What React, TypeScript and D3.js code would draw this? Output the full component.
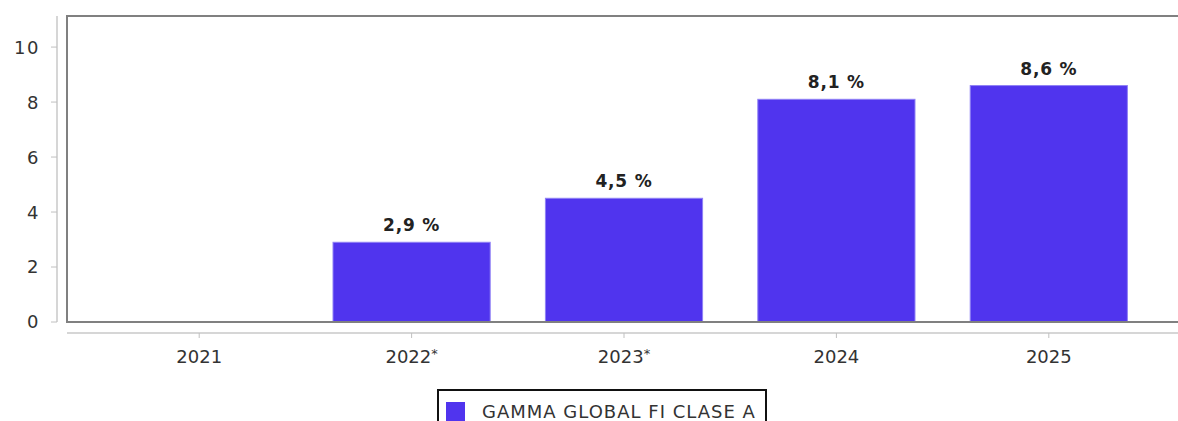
import React from "react";
import * as d3 from "d3";

const categories = ["2021", "2022", "2023", "2024", "2025"];
const starred = [false, true, true, false, false];
const values: (number | null)[] = [null, 2.9, 4.5, 8.1, 8.6];
const valueLabels = ["", "2,9 %", "4,5 %", "8,1 %", "8,6 %"];
const yTicks = [0, 2, 4, 6, 8, 10];
const seriesName = "GAMMA GLOBAL FI CLASE A";

const W = 1178;
const H = 421;
const plotLeft = 67;
const plotRight = 1181;
const plotTop = 16;
const plotBottom = 322;
const font = "'DejaVu Sans', sans-serif";
const barColor = "#5034ee";

export default function App() {
  const y = d3.scaleLinear().domain([0, 11.13]).range([plotBottom, plotTop]);
  const x = d3
    .scaleBand<string>()
    .domain(categories)
    .range([plotLeft + 26, plotRight - 26])
    .paddingInner(0.26)
    .paddingOuter(0.13);
  return (
    <svg
      width={W}
      height={H}
      style={{ position: "absolute", left: 0, top: 0, background: "#fff" }}
      fontFamily={font}
    >
      {/* y axis */}
      <line x1={57} x2={57} y1={plotTop} y2={plotBottom} stroke="#c8c8c8" strokeWidth={1.5} />
      {yTicks.map((t) => (
        <g key={t}>
          <line x1={51} x2={57} y1={y(t)} y2={y(t)} stroke="#c0c0c0" strokeWidth={1} />
          <text x={40} y={y(t)} dy="0.36em" textAnchor="end" fontSize={18} fill="#333" letterSpacing={1.5}>
            {t}
          </text>
        </g>
      ))}
      {/* bars */}
      {categories.map((c, i) => {
        const v = values[i];
        if (v == null) return null;
        const bx = x(c)!;
        const bw = x.bandwidth();
        return (
          <g key={c}>
            <rect
              x={bx}
              y={y(v)}
              width={bw}
              height={y(0) - y(v)}
              fill={barColor}
              stroke="#8f80f5"
              strokeWidth={1}
            />
            <text
              x={bx + bw / 2}
              y={y(v) - 11}
              textAnchor="middle"
              fontSize={17}
              fontWeight="bold"
              fill="#222"
              letterSpacing={0.8}
            >
              {valueLabels[i]}
            </text>
          </g>
        );
      })}
      {/* plot border */}
      <path
        d={`M${plotRight},${plotTop}H${plotLeft}V${plotBottom}H${plotRight}`}
        fill="none"
        stroke="#808080"
        strokeWidth={2}
      />
      {/* x axis */}
      <line x1={plotLeft} x2={plotRight} y1={333} y2={333} stroke="#c8c8c8" strokeWidth={1.5} />
      {categories.map((c, i) => {
        const cx = x(c)! + x.bandwidth() / 2;
        return (
          <g key={c}>
            <line x1={cx} x2={cx} y1={333} y2={338} stroke="#c0c0c0" strokeWidth={1} />
            <text x={cx} y={363} textAnchor="middle" fontSize={18} fill="#333">
              {c}
              {starred[i] ? (
                <tspan fontSize={13} dy={-5}>
                  *
                </tspan>
              ) : null}
            </text>
          </g>
        );
      })}
      {/* legend */}
      <rect x={438} y={390} width={328} height={40} fill="#fff" stroke="#111" strokeWidth={2} />
      <rect x={446} y={402} width={19} height={19} fill={barColor} />
      <text x={482} y={418} fontSize={18} fill="#333" letterSpacing={1}>
        {seriesName}
      </text>
    </svg>
  );
}
